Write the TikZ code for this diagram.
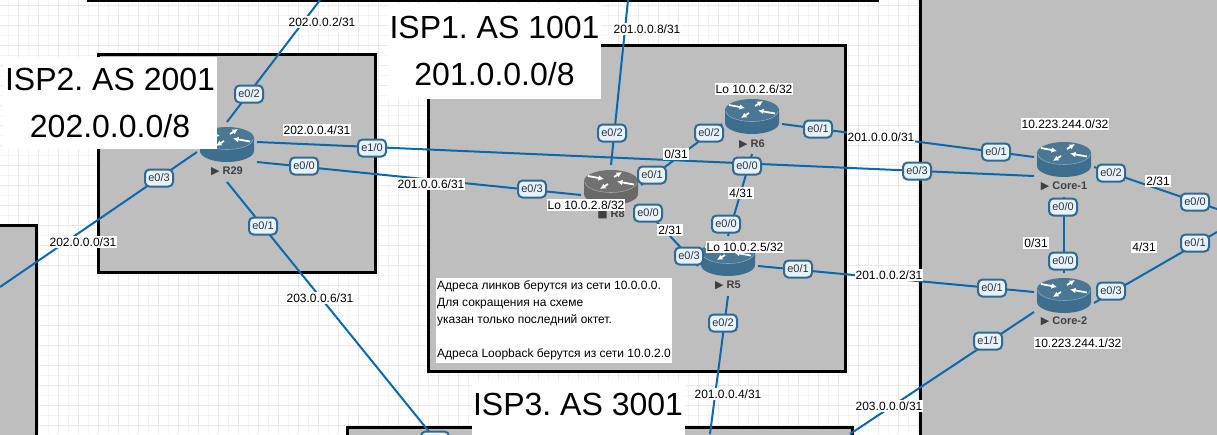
\documentclass[tikz,border=0pt]{standalone}
\usepackage{fontspec}
\usetikzlibrary{arrows.meta}
\setmainfont{Liberation Sans}
\newfontfamily\dejavu{DejaVu Sans}
\frenchspacing
\definecolor{gridstrong}{HTML}{E8E8E8}
\definecolor{gridfine}{HTML}{F3F3F3}
\definecolor{areagrey}{HTML}{BEBEBE}
\definecolor{linkblue}{HTML}{0A69AD}
\definecolor{routerblue}{HTML}{3D6E8D}
\definecolor{routergrey}{HTML}{686868}
\definecolor{pillfill}{HTML}{E6F3FF}
\definecolor{pilledge}{HTML}{33688F}
\tikzset{
	area/.style={draw=black,line width=3pt,fill=areagrey},
	link/.style={draw=linkblue,line width=2pt},
	routerbox/.style={rectangle,minimum size=60pt,inner sep=0pt,outer sep=0pt},
	routername/.style={inner sep=0pt,text=black!75,font=\fontsize{11}{13}\bfseries\selectfont},
	iface/.style={draw=pilledge,fill=pillfill,line width=2pt,rounded corners=4.5pt,minimum width=28pt,minimum height=17pt,inner sep=0pt,text=black!80,font=\fontsize{11}{13}\selectfont},
	addr/.style={fill=white,inner xsep=1pt,inner ysep=2pt,font=\fontsize{12}{14}\selectfont},
	title/.style={fill=white,align=center,inner sep=0pt,font=\fontsize{32}{47}\selectfont},
	routerarrow/.style={white,line width=1.8pt,-{Latex[length=5.5pt,width=5.5pt]}},
	pics/router/.style={code={
		\fill [#1] (-27,-14) -- (-27,-1) arc [start angle=180,end angle=360,x radius=27,y radius=-11] -- (27,-14) -- cycle;
		\fill [#1!94!white] (0,-14) ellipse [x radius=27,y radius=11];
		\draw [white!40!#1,line width=0.6pt] (-26,-13) arc [start angle=180,end angle=360,x radius=26,y radius=-10.5];
		\draw [routerarrow] (-23,-19) -- (-7,-16);
		\draw [routerarrow] (23,-10.5) -- (6,-13.5);
		\draw [routerarrow] (3,-18) -- (11,-23);
		\draw [routerarrow] (-3,-11) -- (-11,-6);
	}}
}
\begin{document}
\begin{tikzpicture}[x=1pt,y=-1pt]
	\useasboundingbox (0,0) rectangle (1217,434);
	\clip (0,0) rectangle (1217,434);
	\fill [white] (0,0) rectangle (1217,434);
	\foreach \gx in {8,28,...,1217} \draw [gridfine,line width=1pt] (\gx,0) -- (\gx,434);
	\foreach \gy in {15,35,...,434} \draw [gridfine,line width=1pt] (0,\gy) -- (1217,\gy);
	\foreach \gx in {18,38,...,1217} \draw [gridstrong,line width=1pt] (\gx,0) -- (\gx,434);
	\foreach \gy in {5,25,...,434} \draw [gridstrong,line width=1pt] (0,\gy) -- (1217,\gy);

	\draw [area] (88,-20) rectangle (877,0);
	\draw [area] (98,54) rectangle (375,272);
	\draw [area] (428,45) rectangle (845,371);
	\draw [area] (920,-20) rectangle (1240,460);
	\draw [area] (-20,225) rectangle (36,460);
	\draw [area] (347,427) rectangle (852,460);

	\node [routerbox] (R29) at (227,152) {};
	\node [routerbox] (R8) at (611,195) {};
	\node [routerbox] (R6) at (752,124) {};
	\node [routerbox] (R5) at (728,266) {};
	\node [routerbox] (Core1) at (1064,167) {};
	\node [routerbox] (Core2) at (1064,303) {};
	\pic at (R29) {router=routerblue};
	\pic at (R8) {router=routergrey};
	\pic at (R6) {router=routerblue};
	\pic at (R5) {router=routerblue};
	\pic at (Core1) {router=routerblue};
	\pic at (Core2) {router=routerblue};

	\node [routername] (nameR29) at (227,171) {{\dejavu ▶} R29};
	\node [routername] (nameR8) at (611,214) {{\dejavu ■} R8};
	\node [routername] (nameR6) at (752,144) {{\dejavu ▶} R6};
	\node [routername] (nameR5) at (728,285) {{\dejavu ▶} R5};
	\node [routername] (nameCore1) at (1064,186) {{\dejavu ▶} Core-1};
	\node [routername] (nameCore2) at (1064,321) {{\dejavu ▶} Core-2};

	\coordinate (outTopA) at (320,0);
	\coordinate (outTopB) at (628,0);
	\coordinate (outLeft) at (0,287);
	\coordinate (outBotA) at (435,439);
	\coordinate (outBotB) at (710,434);
	\coordinate (outBotC) at (850,434);
	\coordinate (outRightA) at (1217,209);
	\coordinate (outRightB) at (1217,232);

	\draw [link] (R29.north) -- (outTopA);
	\draw [link] (R29.west) -- (outLeft);
	\draw [link] (R29.south) -- (outBotA);
	\draw [link] ([yshift=10pt]R29.east) -- ([yshift=-9pt]Core1.west);
	\draw [link] ([yshift=-10pt]R29.east) -- (R8.west);
	\draw [link] (R8.north) -- (outTopB);
	\draw [link] ([yshift=10pt]R8.east) -- (R6.west);
	\draw [link] ([yshift=-10pt]R8.east) -- (R5.west);
	\draw [link] (R6.east) -- ([yshift=10pt]Core1.west);
	\draw [link] (R6.south) -- (R5.north);
	\draw [link] (R5.east) -- ([yshift=11pt]Core2.west);
	\draw [link] (R5.south) -- (outBotB);
	\draw [link] (Core1.south) -- (Core2.north);
	\draw [link] (Core1.east) -- (outRightA);
	\draw [link] (Core2.east) -- (outRightB);
	\draw [link] ([yshift=-9pt]Core2.west) -- (outBotC);

	\node [iface] (r29e02) at (249,94) {e0/2};
	\node [iface] (r29e03) at (159,178) {e0/3};
	\node [iface] (r29e10) at (372,148) {e1/0};
	\node [iface] (r29e00) at (304,166) {e0/0};
	\node [iface] (r29e01) at (263,226) {e0/1};
	\node [iface] (r8e02) at (612,133) {e0/2};
	\node [iface] (r8e01) at (652,175) {e0/1};
	\node [iface] (r8e03) at (532,189) {e0/3};
	\node [iface] (r8e00) at (648,213) {e0/0};
	\node [iface] (r6e02) at (709,133) {e0/2};
	\node [iface] (r6e01) at (818,129) {e0/1};
	\node [iface] (r6e00) at (747,166) {e0/0};
	\node [iface] (r5e00) at (726,224) {e0/0};
	\node [iface] (r5e03) at (689,256) {e0/3};
	\node [iface] (r5e01) at (798,269) {e0/1};
	\node [iface] (r5e02) at (723,323) {e0/2};
	\node [iface] (c1e01) at (996,152) {e0/1};
	\node [iface] (c1e03) at (917,171) {e0/3};
	\node [iface] (c1e02) at (1111,173) {e0/2};
	\node [iface] (c1e00) at (1063,207) {e0/0};
	\node [iface] (c2e00) at (1063,261) {e0/0};
	\node [iface] (c2e01) at (992,288) {e0/1};
	\node [iface] (c2e03) at (1111,291) {e0/3};
	\node [iface] (c2e11) at (988,341) {e1/1};
	\node [iface] (farE00) at (1195,202) {e0/0};
	\node [iface] (farE01) at (1195,243) {e0/1};
	\node [iface] (botPill) at (435,440) {};

	\node [addr] (net2a) at (322,22) {202.0.0.2/31};
	\node [addr] (net2b) at (317,130) {202.0.0.4/31};
	\node [addr] (net2c) at (83,242) {202.0.0.0/31};
	\node [addr] (net3a) at (320,298) {203.0.0.6/31};
	\node [addr] (net3b) at (889,406) {203.0.0.0/31};
	\node [addr] (net1a) at (431,184) {201.0.0.6/31};
	\node [addr] (net1b) at (647,29) {201.0.0.8/31};
	\node [addr] (net1c) at (881,137) {201.0.0.0/31};
	\node [addr] (net1d) at (889,275) {201.0.0.2/31};
	\node [addr] (net1e) at (728,394) {201.0.0.4/31};
	\node [addr] (octA) at (676,154) {0/31};
	\node [addr] (octB) at (741,193) {4/31};
	\node [addr] (octC) at (670,230) {2/31};
	\node [addr] (octD) at (1158,181) {2/31};
	\node [addr] (octE) at (1036,243) {0/31};
	\node [addr] (octF) at (1144,247) {4/31};
	\node [addr] (loCore1) at (1065,124) {10.223.244.0/32};
	\node [addr] (loCore2) at (1078,343) {10.223.244.1/32};
	\node [addr] (loR6) at (754,89) {Lo 10.0.2.6/32};
	\node [addr] (loR8) at (586,205) {Lo 10.0.2.8/32};
	\node [addr] (loR5) at (745,247) {Lo 10.0.2.5/32};

	\node [title,minimum width=214pt,minimum height=92pt] (isp2) at (110,102.5) {ISP2. AS 2001\\202.0.0.0/8};
	\node [title,minimum width=213pt,minimum height=95pt] (isp1) at (494.5,51) {ISP1. AS 1001\\201.0.0.0/8};
	\node [title,anchor=base,minimum width=213pt,text height=35pt,text depth=25pt] (isp3) at (578,415) {ISP3. AS 3001};

	\node [fill=white,align=left,inner sep=0pt,minimum width=236pt,minimum height=85pt,font=\fontsize{12}{17}\selectfont] (note) at (554,320.5) {Адреса линков берутся из сети 10.0.0.0.\\Для сокращения на схеме\\указан только последний октет.\\[17pt]Адреса Loopback берутся из сети 10.0.2.0};
\end{tikzpicture}
\end{document}
